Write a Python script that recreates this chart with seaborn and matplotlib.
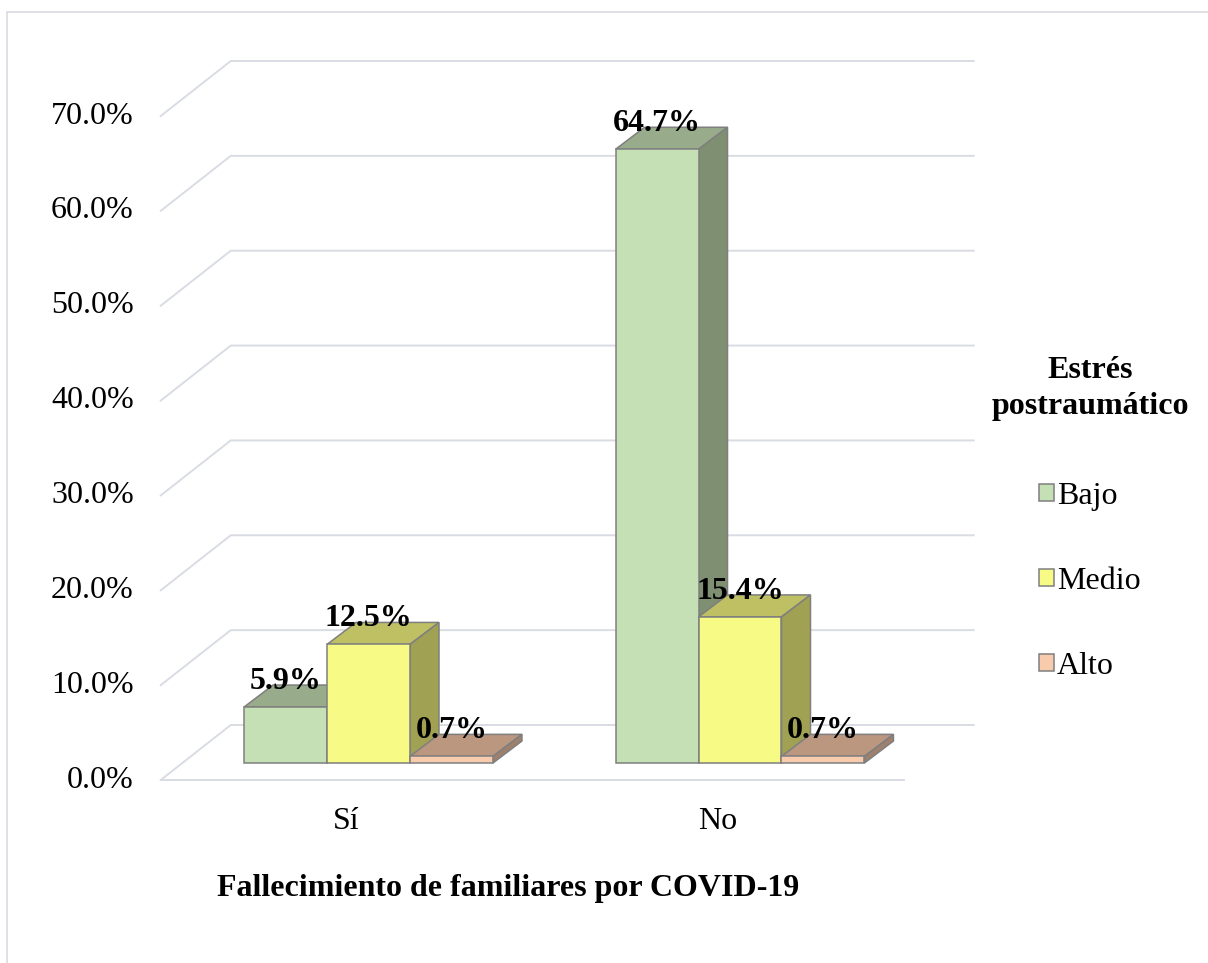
import numpy as np
import pandas as pd
import seaborn as sns
import matplotlib.pyplot as plt
from matplotlib.patches import Polygon, Patch, Rectangle

grupos = ["Sí", "No"]
niveles = ["Bajo", "Medio", "Alto"]
bajo = [5.9, 64.7]
medio = [12.5, 15.4]
alto = [0.7, 0.7]
y_ticks = [0, 10, 20, 30, 40, 50, 60, 70]
y_tick_labels = ["0.0%", "10.0%", "20.0%", "30.0%", "40.0%", "50.0%", "60.0%", "70.0%"]

df = pd.DataFrame({
    "grupo": grupos * 3,
    "nivel": np.repeat(niveles, 2),
    "pct": bajo + medio + alto,
})

front_cols = {"Bajo": "#C5E0B4", "Medio": "#F8FA86", "Alto": "#F8CBAD"}
top_cols = {"Bajo": "#98AB8A", "Medio": "#BFC064", "Alto": "#BB977F"}
side_cols = {"Bajo": "#7F8F71", "Medio": "#A0A153", "Alto": "#9E806C"}
edge = "#7F7F7F"
grid_c = "#D9DCE3"

W, H = 1208, 963
# pixel scale: one category = 371.5 px, 1% = 9.486 px
PX_X = 371.5
PX_Y = 664 / 70
X0_PX, Y0_PX = 368.5, 763  # bar-plane origin (from top)
XLIM = (-0.65, 1.75)
YLIM = (-3.5, 75)

plt.rcParams["font.family"] = ["Liberation Serif", "DejaVu Serif"]
fig = plt.figure(figsize=(W / 100, H / 100), dpi=100)
left_px = X0_PX + XLIM[0] * PX_X
right_px = X0_PX + XLIM[1] * PX_X
bot_px = Y0_PX - YLIM[0] * PX_Y
top_px = Y0_PX - YLIM[1] * PX_Y
ax = fig.add_axes([left_px / W, 1 - bot_px / H, (right_px - left_px) / W, (bot_px - top_px) / H])

# depth offsets (data units)
DX, DY = 29 / PX_X, 22 / PX_Y          # bar depth
FX, FY = -22 / PX_X, -17 / PX_Y        # front plane
BX, BY = 48 / PX_X, 38 / PX_Y          # back wall

sns.barplot(data=df, x="grupo", y="pct", hue="nivel", order=grupos, hue_order=niveles,
            palette=front_cols, saturation=1, width=0.67, edgecolor=edge, linewidth=1.1,
            legend=False, ax=ax)
ax.set_xlim(*XLIM)
ax.set_ylim(*YLIM)
ax.axis("off")

# gridlines: diagonal on side wall + horizontal on back wall
for t in y_ticks:
    ax.plot([-0.5 + FX, -0.5 + BX, 1.5 + BX], [t + FY, t + BY, t + BY],
            color=grid_c, lw=1.4, zorder=0.5, clip_on=False)
ax.plot([-0.5 + FX, 1.5 + FX], [FY, FY], color=grid_c, lw=1.4, zorder=0.5, clip_on=False)

for t, lab in zip(y_ticks, y_tick_labels):
    ax.text(-0.5 + FX - 27 / PX_X, t + FY, lab, ha="right", va="center", fontsize=23)
for i, g in enumerate(grupos):
    ax.text(i + FX, FY - 27 / PX_Y, g, ha="center", va="top", fontsize=23)

# 3D faces, one container per nivel
for nivel, cont in zip(niveles, ax.containers):
    for bar in cont:
        x, w, h = bar.get_x(), bar.get_width(), bar.get_height()
        z = 2 + x
        bar.set_zorder(z + 0.02)
        top = Polygon([(x, h), (x + w, h), (x + w + DX, h + DY), (x + DX, h + DY)],
                      closed=True, fc=top_cols[nivel], ec=edge, lw=1.1, zorder=z)
        side = Polygon([(x + w, 0), (x + w, h), (x + w + DX, h + DY), (x + w + DX, DY)],
                       closed=True, fc=side_cols[nivel], ec=edge, lw=1.1, zorder=z + 0.01)
        ax.add_patch(top)
        ax.add_patch(side)
    txts = ax.bar_label(cont, labels=[f"{v:.1f}%" for v in cont.datavalues],
                        padding=8, fontsize=23, fontweight="bold")
    for t in txts:
        t.set_zorder(10)

handles = [Patch(facecolor=front_cols[n], edgecolor=edge, lw=1.1, label=n) for n in niveles]
leg = fig.legend(handles=handles, title="Estrés\npostraumático", loc="upper center",
                 bbox_to_anchor=(1090 / W, 1 - 324 / H), frameon=False, fontsize=23,
                 title_fontproperties={"weight": "bold", "size": 23},
                 handlelength=0.45, handleheight=0.45, handletextpad=0.1,
                 labelspacing=1.75, borderpad=0.5, alignment="center")
leg.get_title().set_multialignment("center")
leg.get_title().set_linespacing(1.3)
leg._legend_box.sep += 4

fig.text(508 / W, 1 - 888 / H, "Fallecimiento de familiares por COVID-19",
         ha="center", va="center", fontsize=23, fontweight="bold")

fig.patches.append(Rectangle((7 / W, -0.1), 1.2, 1 - 12 / H + 0.1, transform=fig.transFigure,
                             fill=False, ec="#D9DCE3", lw=1.2))

fig.savefig("out.png", dpi=100)
